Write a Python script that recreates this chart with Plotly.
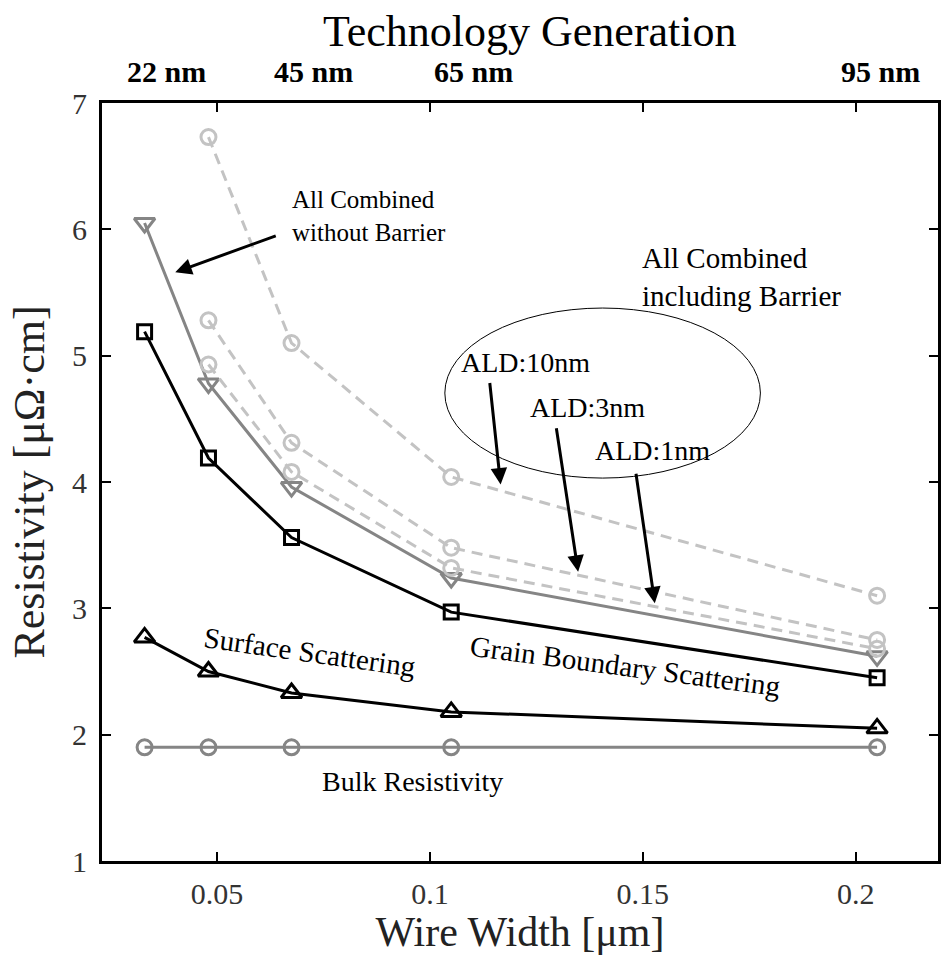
import plotly.graph_objects as go

# Wire width (um) for each technology node
width_um = [0.033, 0.048, 0.0675, 0.105, 0.205]

# Resistivity (uOhm.cm) for each scattering contribution
bulk = [1.90, 1.90, 1.90, 1.90, 1.90]
surface = [2.77, 2.50, 2.33, 2.18, 2.05]
grain = [5.19, 4.19, 3.56, 2.97, 2.45]
combined_no_barrier = [6.05, 4.78, 3.96, 3.24, 2.62]

# All combined including an ALD barrier (no 22 nm point)
ald_width_um = [0.048, 0.0675, 0.105, 0.205]
ald_1nm = [4.93, 4.08, 3.32, 2.68]
ald_3nm = [5.28, 4.31, 3.48, 2.75]
ald_10nm = [6.73, 5.10, 4.04, 3.10]

# Technology generation labels along the top
tech_labels = ["22 nm", "45 nm", "65 nm", "95 nm"]
tech_label_x = [0.0381, 0.0727, 0.1103, 0.2058]

x_ticks = [0.05, 0.1, 0.15, 0.2]
x_tick_text = ["0.05", "0.1", "0.15", "0.2"]
y_ticks = [1, 2, 3, 4, 5, 6, 7]

SERIF = "Liberation Serif, Times New Roman, serif"
LIGHT = "#c3c3c3"
MID = "#858585"

fig = go.Figure()

def add_series(x, y, color, symbol, size, dash="solid"):
    fig.add_trace(go.Scatter(
        x=x, y=y, mode="lines+markers",
        line=dict(color=color, width=3, dash=dash),
        marker=dict(symbol=symbol, size=size, color=color,
                    line=dict(color=color, width=3)),
        showlegend=False, hoverinfo="x+y",
    ))

add_series(width_um, bulk, MID, "circle-open", 15)
add_series(width_um, surface, "black", "triangle-up-open", 18)
add_series(width_um, grain, "black", "square-open", 14)
add_series(width_um, combined_no_barrier, MID, "triangle-down-open", 18)
for series in (ald_1nm, ald_3nm, ald_10nm):
    add_series(ald_width_um, series, LIGHT, "circle-open", 15, dash="11px,7px")

annotations = []

# Technology generation labels above the frame
for lab, xv in zip(tech_labels, tech_label_x):
    annotations.append(dict(
        x=xv, y=1.041, xref="x", yref="paper", text=f"<b>{lab}</b>",
        showarrow=False, font=dict(family=SERIF, size=30, color="black"),
        xanchor="center", yanchor="middle",
    ))

def label(x, y, text, size, angle=0, xanchor="center", align="center"):
    annotations.append(dict(
        x=x, y=y, xref="x", yref="y", text=text, showarrow=False,
        textangle=angle, xanchor=xanchor, yanchor="middle", align=align,
        font=dict(family=SERIF, size=size, color="black"),
    ))

label(0.0671, 6.105, "All Combined<br>without Barrier", 25, xanchor="left", align="left")
label(0.1493, 5.622, "All Combined<br>including Barrier", 29, xanchor="left", align="left")
label(0.1224, 4.949, "ALD:10nm", 28)
label(0.1369, 4.593, "ALD:3nm", 28)
label(0.1523, 4.253, "ALD:1nm", 28)
label(0.0717, 2.653, "Surface Scattering", 29, angle=8)
label(0.1458, 2.542, "Grain Boundary Scattering", 29, angle=7.5)
label(0.0958, 1.632, "Bulk Resistivity", 28)

def arrow(x, y, ax, ay):
    annotations.append(dict(
        x=x, y=y, xref="x", yref="y", ax=ax, ay=ay, text="",
        showarrow=True, arrowhead=2, arrowsize=1.1, arrowwidth=3,
        arrowcolor="black", standoff=0,
    ))

arrow(0.0402, 5.66, 102, -37)
arrow(0.1166, 3.98, -11, -103)
arrow(0.1348, 3.29, -22, -145)
arrow(0.1528, 3.04, -19, -131)

fig.update_layout(
    width=946, height=955,
    margin=dict(l=102, r=5, t=103, b=94),
    paper_bgcolor="white", plot_bgcolor="white",
    title=dict(text="Technology Generation", x=0.56, xanchor="center",
               y=0.968, yanchor="middle",
               font=dict(family=SERIF, size=44, color="black")),
    annotations=annotations,
    shapes=[dict(type="circle", xref="x", yref="y",
                 x0=0.1035, x1=0.1776, y0=4.031, y1=5.377,
                 line=dict(color="black", width=1))],
    xaxis=dict(
        range=[0.023, 0.2193], tickvals=x_ticks, ticktext=x_tick_text,
        showline=True, linecolor="black", linewidth=3, mirror="ticks",
        ticks="inside", ticklen=9, tickwidth=2, tickcolor="black",
        showgrid=False, zeroline=False, ticklabelstandoff=4,
        tickfont=dict(family=SERIF, size=30, color="#333"),
        title=dict(text="Wire Width [\u03bcm]", standoff=0,
                   font=dict(family=SERIF, size=42, color="#222")),
    ),
    yaxis=dict(
        range=[1, 7], tickvals=y_ticks,
        showline=True, linecolor="black", linewidth=3, mirror="ticks",
        ticks="inside", ticklen=9, tickwidth=2, tickcolor="black",
        showgrid=False, zeroline=False, ticklabelstandoff=6,
        tickfont=dict(family=SERIF, size=30, color="#333"),
        title=dict(text="Resistivity [\u03bc\u03a9\u00b7cm]", standoff=14,
                   font=dict(family=SERIF, size=44, color="#222")),
    ),
)

fig.write_html("out.html")
